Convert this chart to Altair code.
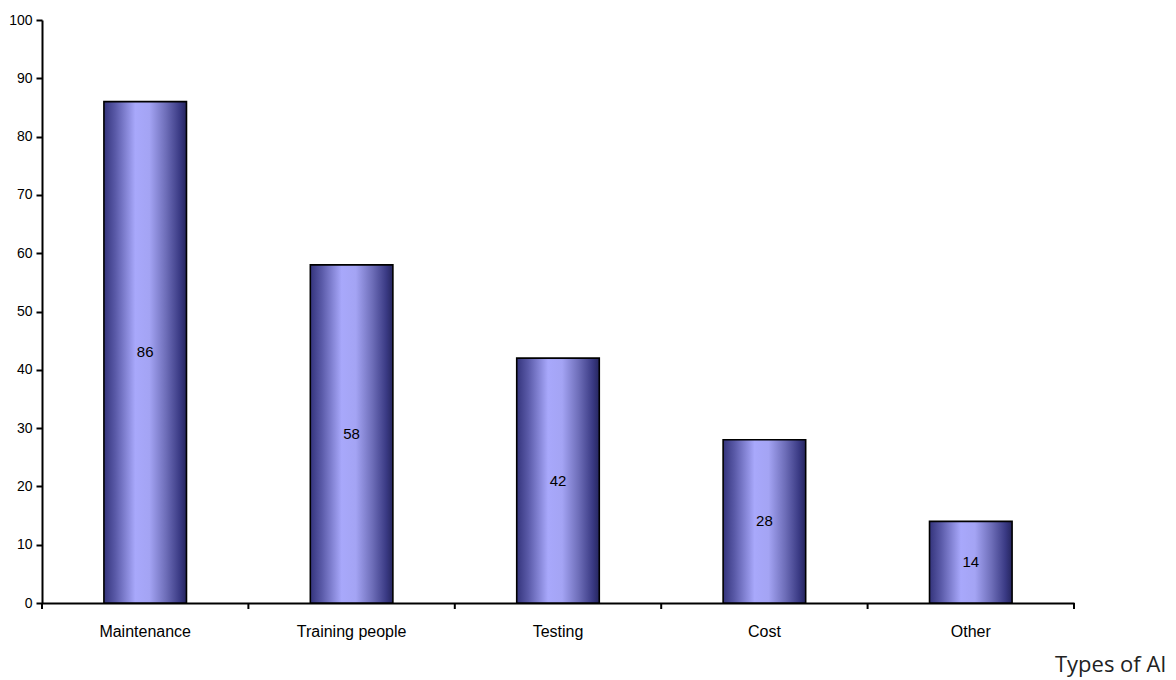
import altair as alt
import pandas as pd

# Survey counts per category
categories = ["Maintenance", "Training people", "Testing", "Cost", "Other"]
counts = [86, 58, 42, 28, 14]

# Category boundaries (used for the between-category tick marks)
boundaries = [0, 1, 2, 3, 4, 5]

df = pd.DataFrame({"category": categories, "count": counts})
ticks_df = pd.DataFrame({"edge": boundaries})

W, H = 1032, 583

bar_fill = alt.Gradient(
    gradient="linear",
    x1=0, x2=1, y1=0, y2=0,
    stops=[
        alt.GradientStop(color="#34347c", offset=0),
        alt.GradientStop(color="#5a5aa8", offset=0.14),
        alt.GradientStop(color="#a8a8fb", offset=0.38),
        alt.GradientStop(color="#a4a4f4", offset=0.55),
        alt.GradientStop(color="#6e6eb9", offset=0.75),
        alt.GradientStop(color="#3a3a84", offset=0.92),
        alt.GradientStop(color="#25255e", offset=1),
    ],
)

band_scale = alt.Scale(paddingInner=0, paddingOuter=0)

x_enc = alt.X(
    "category:N",
    sort=categories,
    scale=band_scale,
    axis=alt.Axis(
        title="Types of AI",
        ticks=False,
        labelAngle=0,
        labelFont="Liberation Sans",
        labelFontSize=16,
        labelColor="#000000",
        labelBaseline="alphabetic",
        labelPadding=33,
        domainColor="#000000",
        domainWidth=2,
        titleFont="Open Sans",
        titleFontSize=22,
        titleFontWeight="normal",
        titleColor="#222222",
        titleAlign="right",
        titleAnchor="end",
        titleBaseline="alphabetic",
        titleX=1124,
        titleY=68,
    ),
)

y_enc = alt.Y(
    "count:Q",
    scale=alt.Scale(domain=[0, 100], nice=False),
    axis=alt.Axis(
        title=None,
        values=list(range(0, 101, 10)),
        grid=False,
        tickSize=6,
        tickColor="#000000",
        tickWidth=2,
        labelPadding=4,
        labelFont="Liberation Sans",
        labelFontSize=14,
        labelColor="#000000",
        domainColor="#000000",
        domainWidth=2,
    ),
)

bars = alt.Chart(df).mark_bar(
    fill=bar_fill,
    stroke="#000000",
    strokeWidth=1.6,
    width=alt.RelativeBandSize(0.4),
).encode(x=x_enc, y=y_enc)

labels = alt.Chart(df).transform_calculate(
    mid="datum.count / 2"
).mark_text(
    font="Liberation Sans", fontSize=15, color="#000000", baseline="middle"
).encode(
    x=alt.X("category:N", sort=categories, scale=band_scale, axis=None),
    y=alt.Y("mid:Q"),
    text=alt.Text("count:Q"),
)

edge_ticks = alt.Chart(ticks_df).mark_rule(color="#000000", strokeWidth=2).encode(
    x=alt.X("edge:Q", scale=alt.Scale(domain=[0, 5], nice=False, zero=False), axis=None),
    y=alt.value(H),
    y2=alt.value(H + 6),
)

chart = (
    alt.layer(bars, labels, edge_ticks)
    .resolve_scale(x="independent")
    .properties(
        width=W,
        height=H,
        autosize=alt.AutoSizeParams(type="none"),
        padding={"left": 42, "top": 20, "right": 102, "bottom": 77},
        background="#ffffff",
    )
    .configure_view(stroke=None)
)

chart.save("out.html", embed_options={"renderer": "svg", "actions": False})
